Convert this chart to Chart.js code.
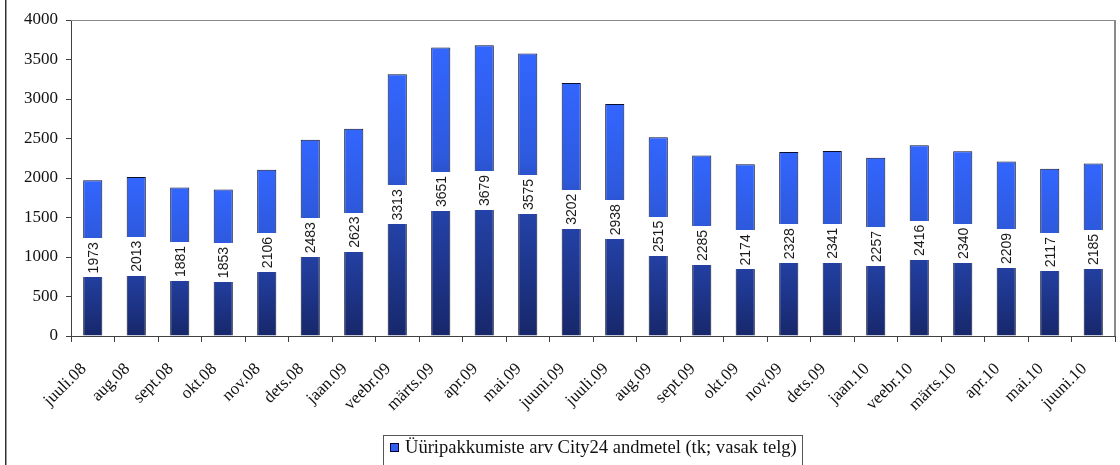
<!DOCTYPE html>
<html>
<head>
<meta charset="utf-8">
<script src="https://cdn.jsdelivr.net/npm/chart.js@4/dist/chart.umd.min.js"></script>
<style>
html,body{margin:0;padding:0;background:#fff;}
#wrap{width:1120px;height:465px;position:relative;}
</style>
</head>
<body>
<div id="wrap"><canvas id="c" width="1120" height="465"></canvas></div>
<script>
const categories = ["juuli.08","aug.08","sept.08","okt.08","nov.08","dets.08","jaan.09","veebr.09","märts.09","apr.09","mai.09","juuni.09","juuli.09","aug.09","sept.09","okt.09","nov.09","dets.09","jaan.10","veebr.10","märts.10","apr.10","mai.10","juuni.10"];
const offers = [1973,2013,1881,1853,2106,2483,2623,3313,3651,3679,3575,3202,2938,2515,2285,2174,2328,2341,2257,2416,2340,2209,2117,2185];
const seriesLabel = "Üüripakkumiste arv City24 andmetel (tk; vasak telg)";
const yMin = 0, yMax = 4000, yStep = 500;

const SERIF = "'Liberation Serif', 'DejaVu Serif', serif";
const SANS = "'Liberation Sans', Arial, sans-serif";

function barGradient(ctx){
  const chart = ctx.chart;
  if (!chart.chartArea || ctx.type !== 'data') return '#3366ff';
  const ys = chart.scales.y;
  const top = ys.getPixelForValue(ctx.raw);
  const base = ys.getPixelForValue(0);
  const g = chart.ctx.createLinearGradient(0, base, 0, top);
  g.addColorStop(0, '#17276a');
  g.addColorStop(0.45, '#2443aa');
  g.addColorStop(0.62, '#2d59dc');
  g.addColorStop(1, '#3366ff');
  return g;
}

const decor = {
  id: 'decor',
  afterDatasetsDraw(chart){
    const c = chart.ctx;
    const meta = chart.getDatasetMeta(0);
    c.save();
    c.font = "14px " + SANS;
    meta.data.forEach((bar, i) => {
      const txt = String(chart.data.datasets[0].data[i]);
      const w = c.measureText(txt).width;
      const mid = (bar.y + bar.base) / 2;
      const bh = w + 8;
      c.fillStyle = '#ffffff';
      c.fillRect(Math.round(bar.x - bar.width/2 - 1), Math.round(mid - bh/2), Math.round(bar.width + 2), Math.round(bh));
      c.save();
      c.translate(bar.x, mid);
      c.rotate(-Math.PI/2);
      c.fillStyle = '#1a1a1a';
      c.textAlign = 'center';
      c.textBaseline = 'middle';
      c.fillText(txt, 0, 1);
      c.restore();
    });
    c.restore();
  },
  afterDraw(chart){
    const c = chart.ctx;
    const a = chart.chartArea;
    c.save();
    c.strokeStyle = '#8a8a8a';
    c.lineWidth = 1;
    c.beginPath();
    c.moveTo(a.left, a.top + 0.5);
    c.lineTo(a.right, a.top + 0.5);
    c.stroke();
    c.lineWidth = 2;
    c.beginPath();
    c.moveTo(a.right, a.top);
    c.lineTo(a.right, a.bottom);
    c.stroke();
    c.strokeStyle = '#333333';
    c.lineWidth = 1.5;
    c.beginPath();
    c.moveTo(5.75, 0);
    c.lineTo(5.75, 465);
    c.stroke();
    // legend
    c.fillStyle = '#ffffff';
    c.fillRect(383, 435, 419, 40);
    c.strokeStyle = '#555555';
    c.lineWidth = 1;
    c.strokeRect(383.5, 435.5, 419, 40);
    c.fillStyle = '#2f5ef0';
    c.fillRect(390, 443, 9, 9);
    c.strokeStyle = '#000033';
    c.strokeRect(390.5, 443.5, 8, 8);
    c.fillStyle = '#111111';
    const txt = chart.data.datasets[0].label;
    c.font = "17px " + SERIF;
    const w17 = c.measureText(txt).width;
    const fs = Math.min(19, 17 * 392 / w17);
    c.font = fs.toFixed(2) + "px " + SERIF;
    c.textAlign = 'left';
    c.textBaseline = 'alphabetic';
    c.fillText(txt, 405, 453);
    c.restore();
  }
};

new Chart(document.getElementById('c'), {
  type: 'bar',
  data: {
    labels: categories,
    datasets: [{
      label: seriesLabel,
      data: offers,
      backgroundColor: barGradient,
      borderColor: '#0a0f2e',
      borderWidth: 1,
      barPercentage: 0.44,
      categoryPercentage: 1.0
    }]
  },
  options: {
    responsive: false,
    animation: false,
    devicePixelRatio: 1,
    layout: { padding: { left: 0, right: 5, top: 20, bottom: 0 } },
    plugins: { legend: { display: false }, tooltip: { enabled: false } },
    scales: {
      x: {
        offset: true,
        grid: { display: true, offset: true, drawOnChartArea: false, drawTicks: true, tickLength: 6, color: '#404040' },
        border: { display: true, color: '#404040', width: 1 },
        ticks: {
          autoSkip: false, minRotation: 45, maxRotation: 45, padding: 8, color: '#111',
          font: { family: SERIF, size: 17 },
          callback: function(v, i){ return this.getLabelForValue(v) + '   '; }
        },
        afterFit(scale){ scale.height = 129; }
      },
      y: {
        min: yMin, max: yMax,
        grid: { display: true, drawOnChartArea: false, drawTicks: true, tickLength: 5, color: '#404040' },
        border: { display: true, color: '#404040', width: 1 },
        ticks: { stepSize: yStep, padding: 8, color: '#111', font: { family: SERIF, size: 17 },
          callback: (v) => String(v) },
        afterFit(scale){ scale.width = 71; }
      }
    }
  },
  plugins: [decor]
});
</script>
</body>
</html>
